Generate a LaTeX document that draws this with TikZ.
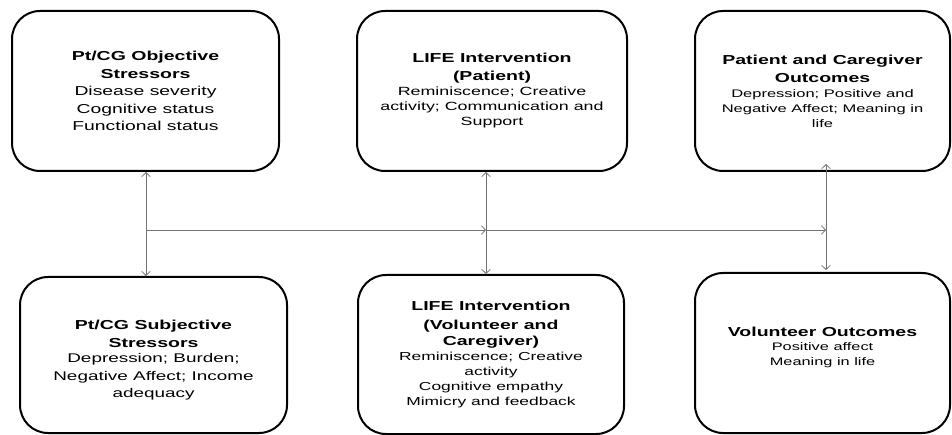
\documentclass[tikz,border=0pt]{standalone}
\usepackage{fontspec}
\setmainfont[FakeStretch=1.5]{Liberation Sans}
\usetikzlibrary{arrows.meta}
\newcommand\boxtitle{\fontsize{13}{17}\selectfont\bfseries}
\begin{document}
\begin{tikzpicture}[x=1pt,y=-1pt,
  >={Straight Barb[length=4pt,width=8.5pt]},
  box/.style={draw=black, line width=2pt, rounded corners=28pt, inner sep=0pt, align=center, text=black},
  conn/.style={draw=black!55, line width=0.8pt}]
\useasboundingbox (0,0) rectangle (952,435);

\node[box, minimum width=267pt, minimum height=160pt, font=\fontsize{12.9}{17.5}\selectfont] (b1) at (145.5,91)
 {\boxtitle Pt/CG Objective\\\boxtitle Stressors\\Disease severity\\Cognitive status\\Functional status};

\node[box, minimum width=270pt, minimum height=160pt, font=\fontsize{11.9}{15}\selectfont] (b2) at (492,91)
 {\boxtitle LIFE Intervention\\[3pt]\boxtitle (Patient)\\Reminiscence; Creative\\activity; Communication and\\Support};

\node[box, minimum width=255pt, minimum height=160pt, font=\fontsize{11}{15}\selectfont] (b3) at (822.5,91)
 {\boxtitle Patient and Caregiver\\[3pt]\boxtitle Outcomes\\Depression; Positive and\\Negative Affect; Meaning in\\life};

\node[box, minimum width=267pt, minimum height=156pt, font=\fontsize{12.6}{17.5}\selectfont, text height=88pt] (b4) at (153.5,355)
 {\boxtitle Pt/CG Subjective\\\boxtitle Stressors\\[-2pt]Depression; Burden;\\Negative Affect; Income\\adequacy};

\node[box, minimum width=266pt, minimum height=159pt, font=\fontsize{11.6}{15}\selectfont] (b5) at (491,354.5)
 {\boxtitle LIFE Intervention\\[3.5pt]\boxtitle (Volunteer and\\[1pt]\boxtitle Caregiver)\\Reminiscence; Creative\\activity\\Cognitive empathy\\Mimicry and feedback};

\node[box, minimum width=255pt, minimum height=160pt, font=\fontsize{10.9}{14.5}\selectfont, text depth=14pt] (b6) at (822.5,353)
 {\boxtitle Volunteer Outcomes\\Positive affect\\Meaning in life};

\coordinate (h0) at (146,230);
\coordinate (h1) at (486,230);
\coordinate (h2) at (826,230);
\coordinate (r1) at (826,164);
\coordinate (r2) at (826,270);

\draw[conn,<->] (h0 |- b1.south) -- (h0 |- b4.north);
\draw[conn,<->] (h1 |- b2.south) -- (h1 |- b5.north);
\draw[conn,<->] (r1) -- (r2);
\draw[conn,->] (h0) -- (h1);
\draw[conn,->] (h1) -- (h2);
\end{tikzpicture}
\end{document}
